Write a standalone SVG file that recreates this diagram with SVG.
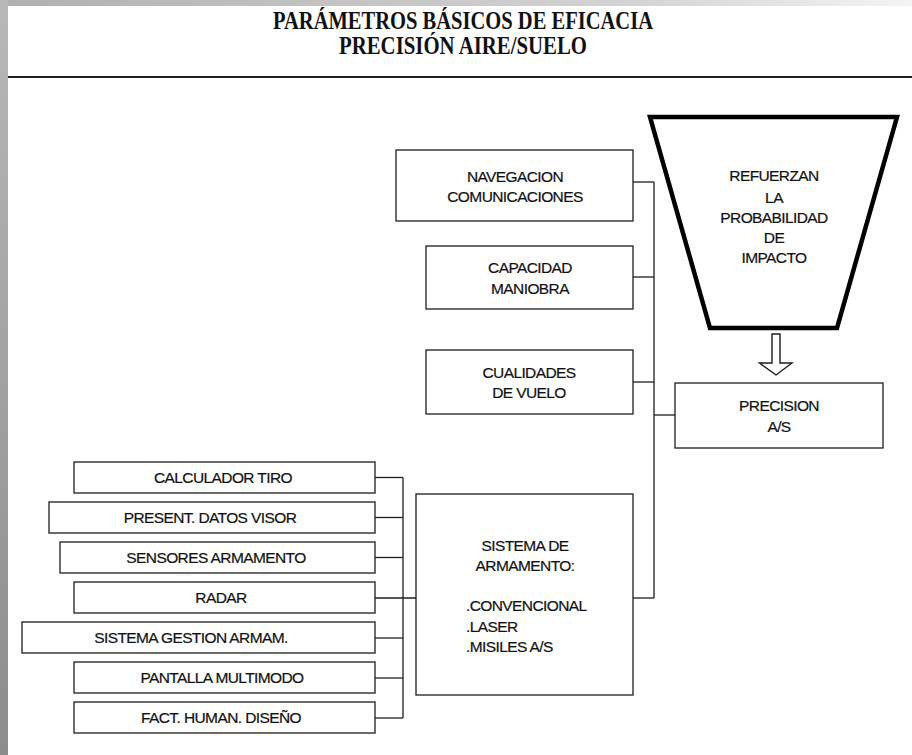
<svg xmlns="http://www.w3.org/2000/svg" width="912" height="755" viewBox="0 0 912 755">
<defs>
<linearGradient id="topband" x1="0" y1="0" x2="1" y2="0">
<stop offset="0" stop-color="#b0b0b0"/>
<stop offset="0.7" stop-color="#d4d4d4"/>
<stop offset="1" stop-color="#f4f4f4"/>
</linearGradient>
<linearGradient id="leftband" x1="0" y1="0" x2="0" y2="1">
<stop offset="0" stop-color="#b8b8b8"/>
<stop offset="1" stop-color="#8c8c8c"/>
</linearGradient>
<style>
.box{fill:#fff;stroke:#1e1e1e;stroke-width:1.3}
.t{font-family:"Liberation Sans",Arial,sans-serif;font-size:15.5px;letter-spacing:-0.6px;fill:#111;stroke:#111;stroke-width:0.2;text-anchor:middle}
.tl{font-family:"Liberation Sans",Arial,sans-serif;font-size:15.5px;letter-spacing:-0.6px;fill:#111;stroke:#111;stroke-width:0.2;text-anchor:start}
.title{font-family:"Liberation Serif","Times New Roman",serif;font-weight:bold;font-size:25px;fill:#111;text-anchor:middle}
.c{fill:none;stroke:#1e1e1e;stroke-width:1.3}
</style>
</defs>
<rect x="0" y="0" width="912" height="755" fill="#ffffff"/>
<rect x="0" y="0" width="912" height="6" fill="url(#topband)"/>
<rect x="0" y="0" width="8" height="755" fill="url(#leftband)"/>

<g id="header">
<text class="title" x="463" y="29" textLength="380" lengthAdjust="spacingAndGlyphs">PARÁMETROS BÁSICOS DE EFICACIA</text>
<text class="title" x="463" y="54" textLength="248" lengthAdjust="spacingAndGlyphs">PRECISIÓN AIRE/SUELO</text>
<line x1="8" y1="77" x2="912" y2="77" stroke="#222" stroke-width="2"/>
</g>

<g id="connectors">
<polyline class="c" points="654,182 654,598"/>
<line class="c" x1="633" y1="182" x2="654" y2="182"/>
<line class="c" x1="633" y1="277" x2="654" y2="277"/>
<line class="c" x1="633" y1="382" x2="654" y2="382"/>
<line class="c" x1="654" y1="415" x2="675" y2="415"/>
<line class="c" x1="633" y1="598" x2="654" y2="598"/>
<line class="c" x1="403" y1="477.5" x2="403" y2="718"/>
<line class="c" x1="375" y1="477.5" x2="403" y2="477.5"/>
<line class="c" x1="375" y1="517.5" x2="403" y2="517.5"/>
<line class="c" x1="375" y1="557.5" x2="403" y2="557.5"/>
<line class="c" x1="375" y1="598" x2="416" y2="598"/>
<line class="c" x1="375" y1="638" x2="403" y2="638"/>
<line class="c" x1="375" y1="678" x2="403" y2="678"/>
<line class="c" x1="375" y1="718" x2="403" y2="718"/>
<polygon points="772,334 780,334 780,363 792,363 776,375 759.5,363 772,363" fill="#fff" stroke="#1e1e1e" stroke-width="1.4"/>
</g>

<g id="funnel">
<polygon points="650,117 897,117 837,328 710,328" fill="#fff" stroke="#000" stroke-width="4.5" stroke-linejoin="miter"/>
<text class="t" x="774" y="181">REFUERZAN</text>
<text class="t" x="774" y="202.5">LA</text>
<text class="t" x="774" y="222.5">PROBABILIDAD</text>
<text class="t" x="774" y="242.5">DE</text>
<text class="t" x="774" y="262.5">IMPACTO</text>
</g>

<g id="navegacion">
<rect class="box" x="396" y="150" width="237" height="71"/>
<text class="t" x="515" y="182">NAVEGACION</text>
<text class="t" x="515" y="202">COMUNICACIONES</text>
</g>

<g id="capacidad">
<rect class="box" x="426" y="246" width="207" height="63"/>
<text class="t" x="530" y="273">CAPACIDAD</text>
<text class="t" x="530" y="293.5">MANIOBRA</text>
</g>

<g id="cualidades">
<rect class="box" x="426" y="350" width="207" height="64"/>
<text class="t" x="529" y="377.5">CUALIDADES</text>
<text class="t" x="529" y="398">DE VUELO</text>
</g>

<g id="precision">
<rect class="box" x="675" y="383" width="208" height="65"/>
<text class="t" x="779" y="411">PRECISION</text>
<text class="t" x="779" y="432">A/S</text>
</g>

<g id="sistema-armamento">
<rect class="box" x="416" y="494" width="217" height="201"/>
<text class="t" x="525" y="550.5">SISTEMA DE</text>
<text class="t" x="525" y="570.5">ARMAMENTO:</text>
<text class="tl" x="466" y="610.5">.CONVENCIONAL</text>
<text class="tl" x="466" y="631.5">.LASER</text>
<text class="tl" x="466" y="651.5">.MISILES A/S</text>
</g>

<g id="calculador">
<rect class="box" x="74" y="462" width="301" height="31"/>
<text class="t" x="223" y="483">CALCULADOR TIRO</text>
</g>
<g id="present">
<rect class="box" x="49" y="502" width="326" height="31"/>
<text class="t" x="210" y="523">PRESENT. DATOS VISOR</text>
</g>
<g id="sensores">
<rect class="box" x="60" y="542" width="315" height="31"/>
<text class="t" x="216" y="563">SENSORES ARMAMENTO</text>
</g>
<g id="radar">
<rect class="box" x="74" y="582" width="301" height="31"/>
<text class="t" x="221" y="603">RADAR</text>
</g>
<g id="gestion">
<rect class="box" x="22" y="622" width="353" height="31"/>
<text class="t" x="191" y="643.3">SISTEMA GESTION ARMAM.</text>
</g>
<g id="pantalla">
<rect class="box" x="74" y="662" width="301" height="31"/>
<text class="t" x="222" y="683.3">PANTALLA MULTIMODO</text>
</g>
<g id="fact">
<rect class="box" x="74" y="702" width="301" height="31"/>
<text class="t" x="221" y="723.3">FACT. HUMAN. DISEÑO</text>
</g>
</svg>
